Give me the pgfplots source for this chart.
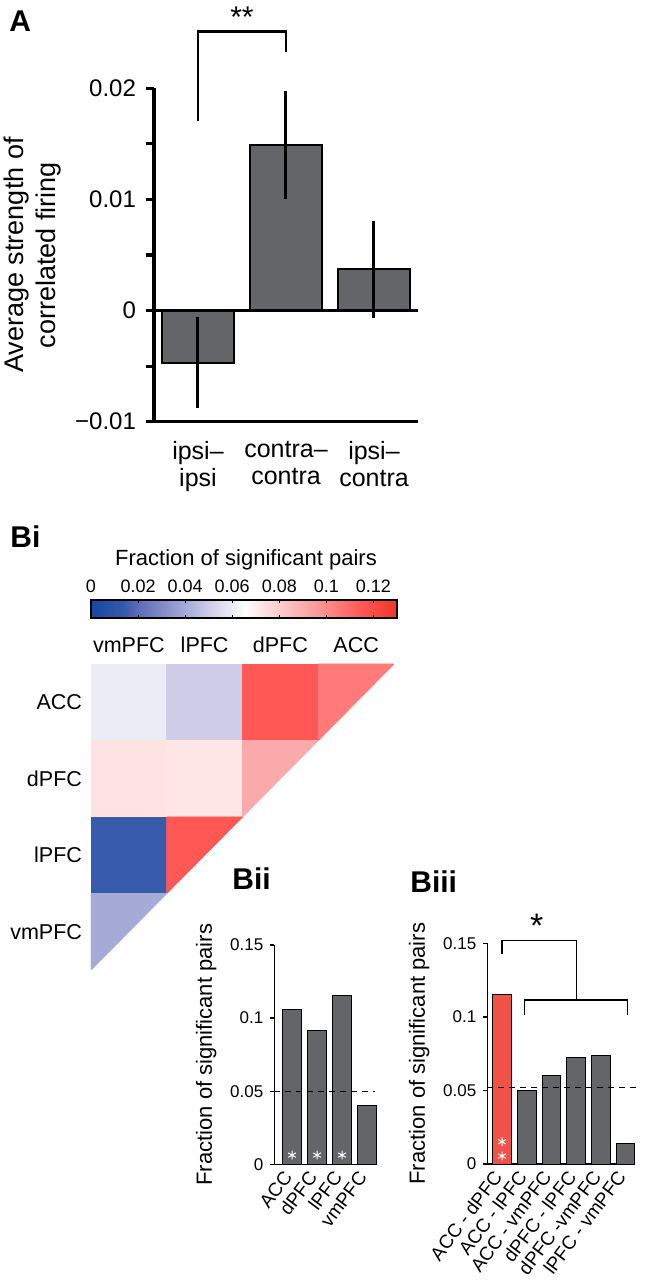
\documentclass[border=0pt]{standalone}
\usepackage{pgfplots}
\pgfplotsset{compat=1.18}
\usepackage{fontspec}
\setmainfont{Liberation Sans}
\definecolor{bargray}{RGB}{100,101,105}
\definecolor{barred}{RGB}{240,82,72}
\begin{document}
\begin{tikzpicture}[x=0.5pt,y=0.5pt]
\useasboundingbox (0,0) rectangle (644,1280);
% ---------------- Panel A ----------------
\node[anchor=north west,inner sep=0,font=\fontsize{15}{18}\selectfont\bfseries] at (9,1270) {A};
\begin{axis}[
  at={(77pt,429.15pt)}, anchor=south west, scale only axis,
  width=132pt, height=166.7pt,
  xmin=0.5, xmax=3.5, ymin=-0.01, ymax=0.02,
  scaled y ticks=false,
  axis x line=bottom, axis y line=left,
  axis line style={-, line width=1.6pt},
  xtick={1,2,3},
  xticklabels={{ipsi–\\ipsi},{contra–\\contra},{ipsi–\\contra}},
  xticklabel style={align=center, font=\fontsize{12.5}{13.5}\selectfont, yshift=-2.5pt},
  x tick style={draw=none},
  ytick={-0.01,0,0.01,0.02}, yticklabels={−0.01,0,0.01,0.02},
  minor ytick={-0.005,0.005,0.015},
  y tick style={line width=1.6pt, black},
  tick align=outside, major tick length=4pt, minor tick length=4pt,
  yticklabel style={font=\fontsize{12}{14}\selectfont, xshift=-1.5pt},
  ylabel={Average strength of\\correlated firing},
  ylabel style={align=center, font=\fontsize{13.5}{16}\selectfont},
  clip=false,
]
\addplot[ybar, bar width=36pt, fill=bargray, draw=black, line width=1pt,
  error bars/.cd, y dir=both, y explicit, error mark=none,
  error bar style={line width=1.5pt, black}]
  coordinates {(1,-0.0047) +- (0,0.0041) (2,0.0149) +- (0,0.0049) (3,0.0037) +- (0,0.0044)};
\draw[line width=1.6pt] (axis cs:0.5,0) -- (axis cs:3.5,0);
\draw[line width=1.2pt] (axis cs:1,0.0171) -- (axis cs:1,0.0251) -- (axis cs:2,0.0251) -- (axis cs:2,0.0233);
\node[font=\fontsize{15}{16}\selectfont] at (axis cs:1.5,0.0264) {**};
\end{axis}
% ---------------- Panel Bi ----------------
\node[anchor=north west,inner sep=0,font=\fontsize{15}{18}\selectfont\bfseries] at (10,755) {Bi};
\node[font=\fontsize{11}{13}\selectfont] at (246,720) {Fraction of significant pairs};
\begin{axis}[
  at={(45.5pt,155pt)}, anchor=south west, scale only axis,
  width=151.5pt, height=153pt,
  xmin=0, xmax=4, ymin=0, ymax=4,
  axis line style={draw=none},
  major tick length=0pt,
  xtick={0.5,1.5,2.5,3.5}, xticklabels={vmPFC,lPFC,dPFC,ACC},
  xticklabel pos=right,
  ytick={0.5,1.5,2.5,3.5}, yticklabels={vmPFC,lPFC,dPFC,ACC},
  tick label style={font=\fontsize{10.75}{12}\selectfont},
  xticklabel style={yshift=2pt},
  yticklabel style={xshift=-1pt},
  colormap={bwr}{rgb255(0cm)=(20,72,163); rgb255(1.4cm)=(55,90,170); rgb255(2cm)=(92,108,185); rgb255(4cm)=(165,170,215); rgb255(5cm)=(205,205,232); rgb255(6cm)=(236,236,246); rgb255(6.55cm)=(255,255,255); rgb255(7.3cm)=(255,226,226); rgb255(9.1cm)=(250,170,170); rgb255(10.5cm)=(255,122,120); rgb255(11.5cm)=(255,88,85); rgb255(13cm)=(240,52,38)},
  point meta min=0, point meta max=0.13,
  colorbar horizontal,
  colorbar style={
    at={(parent axis.north west)}, anchor=south west, yshift=31.5pt,
    scale only axis, width=153pt, height=9pt,
    xtick={0,0.02,0.04,0.06,0.08,0.1,0.12},
    xticklabels={0,0.02,0.04,0.06,0.08,0.1,0.12},
    xticklabel pos=right,
    xtick pos=both,
    tick align=inside, major tick length=1.5pt,
    tick style={black, line width=0.5pt},
    xticklabel style={font=\fontsize{9}{10}\selectfont},
    axis line style={line width=0.6pt},
  },
]
\addplot[patch, patch type=rectangle, shader=flat, point meta=explicit]
  table[meta=c] {
x y c
0 3 0.060
1 3 0.060
1 4 0.060
0 4 0.060
1 3 0.050
2 3 0.050
2 4 0.050
1 4 0.050
2 3 0.115
3 3 0.115
3 4 0.115
2 4 0.115
0 2 0.073
1 2 0.073
1 3 0.073
0 3 0.073
1 2 0.072
2 2 0.072
2 3 0.072
1 3 0.072
0 1 0.014
1 1 0.014
1 2 0.014
0 2 0.014
};
\addplot[patch, patch type=triangle, shader=flat, point meta=explicit]
  table[meta=c] {
x y c
3 4 0.105
4 4 0.105
3 3 0.105
2 3 0.091
3 3 0.091
2 2 0.091
1 2 0.115
2 2 0.115
1 1 0.115
0 1 0.040
1 1 0.040
0 0 0.040
};
\end{axis}
% ---------------- Panel Bii ----------------
\node[anchor=north west,inner sep=0,font=\fontsize{15}{18}\selectfont\bfseries] at (232,413) {Bii};
\begin{axis}[
  at={(137.15pt,57.85pt)}, anchor=south west, scale only axis,
  width=51.35pt, height=109.65pt,
  xmin=0.29, xmax=4.4, ymin=0, ymax=0.15,
  scaled y ticks=false,
  axis x line=bottom, axis y line=left,
  axis line style={-, line width=0.65pt},
  ytick={0,0.05,0.1,0.15}, yticklabels={0,0.05,0.1,0.15},
  tick align=outside, major tick length=2pt,
  y tick style={black, line width=0.65pt},
  xtick={1,2,3,4}, xticklabels={ACC,dPFC,lPFC,vmPFC},
  x tick style={draw=none},
  xticklabel style={rotate=53, anchor=east, font=\fontsize{9.5}{11}\selectfont},
  yticklabel style={font=\fontsize{8.5}{10}\selectfont},
  ylabel={Fraction of significant pairs},
  ylabel style={font=\fontsize{11}{13}\selectfont},
  clip=false,
]
\addplot[ybar, bar width=9.75pt, fill=bargray, draw=black, line width=0.5pt]
  coordinates {(1,0.1057) (2,0.0913) (3,0.1153) (4,0.040)};
\addplot[black, dashed, dash pattern=on 3pt off 2.5pt, line width=0.6pt]
  coordinates {(0.29,0.05) (4.32,0.05)};
\addplot[only marks, mark=asterisk, mark size=2.2pt, mark options={white, line width=0.5pt}]
  coordinates {(1,0.0063) (2,0.0063) (3,0.0063)};
\end{axis}
% ---------------- Panel Biii ----------------
\node[anchor=north west,inner sep=0,font=\fontsize{15}{18}\selectfont\bfseries] at (410,410) {Biii};
\begin{axis}[
  at={(243.65pt,58pt)}, anchor=south west, scale only axis,
  width=73.85pt, height=110.35pt,
  xmin=0.405, xmax=6.38, ymin=0, ymax=0.15,
  scaled y ticks=false,
  axis x line=bottom, axis y line=left,
  axis line style={-, line width=0.65pt},
  ytick={0,0.05,0.1,0.15}, yticklabels={0,0.05,0.1,0.15},
  tick align=outside, major tick length=2pt,
  y tick style={black, line width=0.65pt},
  xtick={1,2,3,4,5,6},
  xticklabels={ACC - dPFC,ACC - lPFC,ACC - vmPFC,dPFC - lPFC,dPFC -vmPFC,lPFC - vmPFC},
  x tick style={draw=none},
  xticklabel style={rotate=53, anchor=east, font=\fontsize{9.5}{11}\selectfont},
  yticklabel style={font=\fontsize{8.5}{10}\selectfont},
  ylabel={Fraction of significant pairs},
  ylabel style={font=\fontsize{11}{13}\selectfont},
  clip=false,
]
\addplot[ybar, bar width=9.35pt, fill=barred, draw=black, line width=0.5pt]
  coordinates {(1,0.1153)};
\addplot[ybar, bar width=9.35pt, fill=bargray, draw=black, line width=0.5pt]
  coordinates {(2,0.0500) (3,0.0600) (4,0.0721) (5,0.0737) (6,0.0141)};
\addplot[black, dashed, dash pattern=on 3pt off 2.5pt, line width=0.6pt]
  coordinates {(0.405,0.052) (6.63,0.052)};
\addplot[only marks, mark=asterisk, mark size=2.2pt, mark options={white, line width=0.5pt}]
  coordinates {(1,0.0151) (1,0.0054)};
\draw[line width=0.6pt] (axis cs:1,0.1425) -- (axis cs:1,0.1517) -- (axis cs:4,0.1517) -- (axis cs:4,0.1114);
\draw[line width=0.6pt] (axis cs:1.9,0.1012) -- (axis cs:1.9,0.1114) -- (axis cs:6.07,0.1114) -- (axis cs:6.07,0.1012);
\node[font=\fontsize{17}{18}\selectfont] at (axis cs:2.4,0.162) {*};
\end{axis}
\end{tikzpicture}
\end{document}
